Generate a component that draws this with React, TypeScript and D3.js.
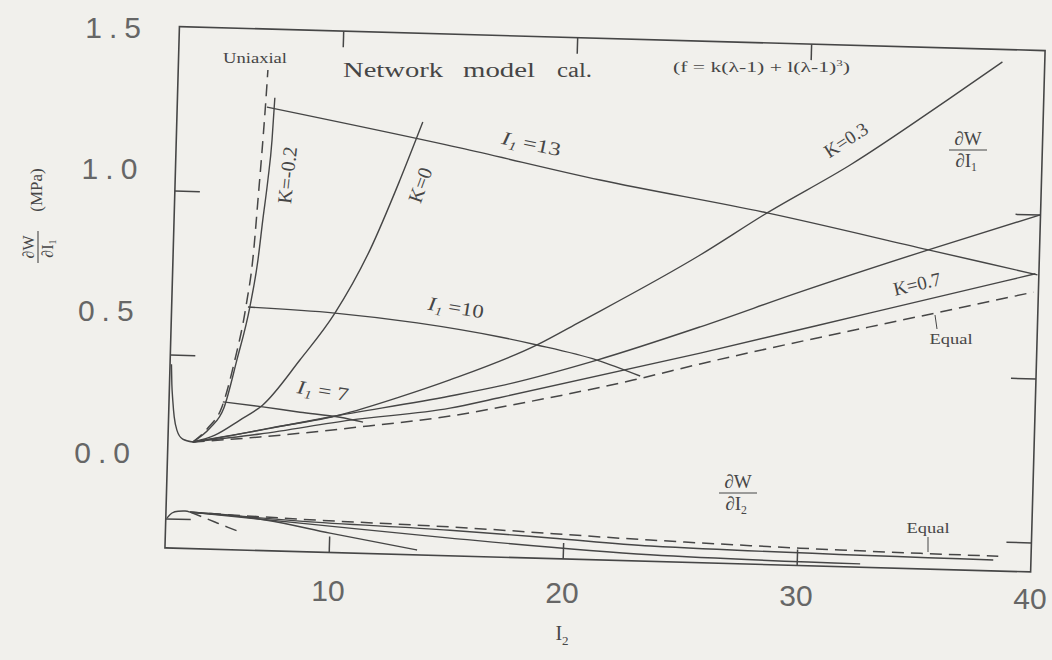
import React from "react";
import * as d3 from "d3";

const W = 1052;
const H = 660;

// axis ticks (inside the frame) and printed labels
const I2_TICKS = [10, 20, 30];
const VALUE_TICKS = [0, 0.5, 1.0];
const I2_LABELS = [10, 20, 30, 40];
const VALUE_LABELS = [1.5, 1.0, 0.5, 0.0];

// dW/dI1 curves, [I2, MPa]
const uniaxialI1: [number, number][] = [
  [4.06, 0.235], [4.69, 0.279], [5.27, 0.345], [5.76, 0.488], [6.17, 0.651],
  [6.44, 0.826], [6.56, 0.978], [6.7, 1.162], [6.78, 1.284], [6.83, 1.375],
];
const kMinus02I1: [number, number][] = [
  [4.06, 0.235], [4.78, 0.279], [5.35, 0.341], [5.85, 0.489], [6.34, 0.651],
  [6.63, 0.795], [6.79, 0.918], [6.96, 1.04], [7.09, 1.163], [7.16, 1.291],
];
const k0I1: [number, number][] = [
  [4.06, 0.235], [5.0, 0.258], [6.05, 0.306], [7.01, 0.354], [8.54, 0.494],
  [9.98, 0.64], [11.4, 0.835], [12.6, 1.051], [13.51, 1.23],
];
const k03I1: [number, number][] = [
  [4.06, 0.235], [5.09, 0.249], [7.34, 0.284], [10.32, 0.33], [12.86, 0.39],
  [14.97, 0.446], [18.65, 0.56], [20.46, 0.634], [25.51, 0.848], [28.32, 0.982],
  [31.81, 1.135], [35.88, 1.341], [38.19, 1.462],
];
const k05I1: [number, number][] = [
  [4.06, 0.235], [6.49, 0.27], [9.89, 0.323], [15.0, 0.397], [17.12, 0.432],
  [21.23, 0.519], [25.6, 0.629], [29.83, 0.744], [35.25, 0.883], [39.99, 0.999],
];
const k07I1: [number, number][] = [
  [4.06, 0.235], [6.92, 0.265], [10.75, 0.315], [15.01, 0.36], [17.05, 0.395],
  [25.63, 0.549], [32.85, 0.686], [39.85, 0.819],
];
const equalI1: [number, number][] = [
  [4.06, 0.235], [6.92, 0.256], [10.76, 0.291], [15.02, 0.336], [18.29, 0.385],
  [22.79, 0.461], [25.64, 0.516], [35.62, 0.691], [39.79, 0.763],
];
const smallStrainI1: [number, number][] = [
  [3.06, 0.47], [3.1, 0.41], [3.16, 0.36], [3.24, 0.31], [3.37, 0.27],
  [3.63, 0.243], [4.06, 0.235],
];

// constant-I1 lines
const i1Is7: [number, number][] = [
  [5.3, 0.36], [7.01, 0.348], [8.61, 0.335], [10.32, 0.323], [11.31, 0.31],
];
const i1Is10: [number, number][] = [
  [6.26, 0.651], [9.98, 0.64], [13.5, 0.617], [17.06, 0.581], [18.65, 0.56],
  [21.23, 0.519], [23.09, 0.474],
];
const i1Is13: [number, number][] = [
  [6.83, 1.262], [15.13, 1.154], [21.15, 1.068], [28.32, 0.982], [35.25, 0.883],
  [39.94, 0.816],
];

// dW/dI2 curves, [I2, MPa]
const startI2: [number, number][] = [
  [3.05, 0.001], [3.26, 0.017], [3.52, 0.023], [3.82, 0.024], [4.03, 0.021],
];
const uniaxialI2: [number, number][] = [
  [4.03, 0.021], [4.46, 0.01], [5.1, -0.007], [5.67, -0.022], [6.18, -0.035],
];
const k0I2: [number, number][] = [
  [4.03, 0.021], [5.74, 0.015], [7.32, 0.003], [10.03, -0.031], [13.77, -0.075],
];
const equalI2: [number, number][] = [
  [4.03, 0.021], [8.73, 0.009], [15.18, -0.002], [23.71, -0.025], [30.13, -0.037],
  [38.6, -0.045],
];
const k07I2: [number, number][] = [
  [4.03, 0.021], [8.73, 0.003], [15.15, -0.012], [19.45, -0.027], [23.74, -0.043],
  [38.39, -0.057],
];
const k03I2: [number, number][] = [
  [4.03, 0.021], [8.74, -0.003], [15.16, -0.036], [23.73, -0.07], [32.71, -0.08],
];

const solidSeries = [
  smallStrainI1, kMinus02I1, k0I1, k03I1, k05I1, k07I1,
  i1Is7, i1Is10, i1Is13, startI2, k0I2, k07I2, k03I2,
];
const dashedSeries = [uniaxialI1, equalI1, uniaxialI2, equalI2];

const INK = "#464646";
const SERIF = "'Liberation Serif', 'Times New Roman', serif";
const SANS = "'Liberation Sans', Arial, sans-serif";

// plot frame before the page tilt
const x = d3.scaleLinear().domain([3, 40]).range([172, 1038]);
const y = d3.scaleLinear().domain([-0.09, 1.5]).range([560, 38.5]);
const TILT = "rotate(1.59, 604.5, 300)";

// positions of the printed tick numbers
const valueLabelY = d3.scaleLinear().domain([0, 1.5]).range([452, 27]);
const valueLabelX = d3.scaleLinear().domain([0, 1.5]).range([137, 148]);
const i2LabelX = d3.scaleLinear().domain([10, 40]).range([328, 1030]);
const i2LabelY = d3.scaleLinear().domain([10, 40]).range([590, 598]);

const line = d3
  .line<[number, number]>()
  .x((d) => x(d[0]))
  .y((d) => y(d[1]))
  .curve(d3.curveMonotoneX);

function Fraction(props: {
  cx: number;
  cy: number;
  sub: string;
  size: number;
  rotate?: number;
}) {
  const { cx, cy, sub, size, rotate = 0 } = props;
  const half = size * 1.0;
  return (
    <g transform={`translate(${cx},${cy}) rotate(${rotate})`} fill={INK} fontFamily={SERIF} fontSize={size}>
      <text x={0} y={-size * 0.28} textAnchor="middle">∂W</text>
      <line x1={-half} x2={half} y1={0} y2={0} stroke={INK} strokeWidth={1.1} />
      <text x={-size * 0.1} y={size * 0.92} textAnchor="middle">
        ∂I<tspan fontSize={size * 0.62} dy={size * 0.18}>{sub}</tspan>
      </text>
    </g>
  );
}

function I1Label(props: { cx: number; cy: number; angle: number; value: string; width: number }) {
  const { cx, cy, angle, value, width } = props;
  return (
    <text
      transform={`translate(${cx},${cy}) rotate(${angle})`}
      textAnchor="middle"
      fontFamily={SERIF}
      fontSize={19}
      fill={INK}
      textLength={width}
      lengthAdjust="spacingAndGlyphs"
    >
      <tspan fontStyle="italic">I</tspan>
      <tspan fontSize={12} dy={4} fontStyle="italic">1</tspan>
      <tspan dy={-4}>{value}</tspan>
    </text>
  );
}

function Label(props: {
  cx: number;
  cy: number;
  angle?: number;
  text: string;
  size?: number;
  width?: number;
}) {
  const { cx, cy, angle = 0, text, size = 16, width } = props;
  return (
    <text
      transform={`translate(${cx},${cy}) rotate(${angle})`}
      textAnchor="middle"
      dominantBaseline="central"
      fontFamily={SERIF}
      fontSize={size}
      fill={INK}
      textLength={width}
      lengthAdjust={width ? "spacingAndGlyphs" : undefined}
    >
      {text}
    </text>
  );
}

export default function App() {
  const gx = React.useRef<SVGGElement>(null);

  React.useEffect(() => {
    if (!gx.current) return;
    const g = d3.select(gx.current);
    g.selectAll("*").remove();
    const noText = () => "";
    const style = (sel: d3.Selection<SVGGElement, unknown, null, undefined>) => {
      sel.select(".domain").remove();
      sel.selectAll("line").attr("stroke", INK).attr("stroke-width", 1.5);
    };
    g.append("g")
      .attr("transform", `translate(${x(3)},0)`)
      .call(d3.axisLeft(y).tickValues(VALUE_TICKS).tickSize(-25).tickFormat(noText))
      .call(style);
    g.append("g")
      .attr("transform", `translate(${x(40)},0)`)
      .call(d3.axisRight(y).tickValues(VALUE_TICKS).tickSize(-25).tickFormat(noText))
      .call(style);
    g.append("g")
      .attr("transform", `translate(0,${y(-0.09)})`)
      .call(d3.axisBottom(x).tickValues(I2_TICKS).tickSize(-16).tickFormat(noText))
      .call(style);
    g.append("g")
      .attr("transform", `translate(0,${y(1.5)})`)
      .call(d3.axisTop(x).tickValues(I2_TICKS).tickSize(-16).tickFormat(noText))
      .call(style);
  }, []);

  const fmt = d3.format(".1f");

  return (
    <svg
      width={W}
      height={H}
      style={{ position: "absolute", left: 0, top: 0, display: "block" }}
    >
      <rect x={0} y={0} width={W} height={H} fill="#f1f0ec" />

      <g transform={TILT}>
        <rect
          x={x(3)}
          y={y(1.5)}
          width={x(40) - x(3)}
          height={y(-0.09) - y(1.5)}
          fill="none"
          stroke={INK}
          strokeWidth={1.6}
        />
        <g ref={gx} />
        {solidSeries.map((s, i) => (
          <path key={`s${i}`} d={line(s) ?? ""} fill="none" stroke={INK} strokeWidth={1.4} />
        ))}
        {dashedSeries.map((s, i) => (
          <path
            key={`d${i}`}
            d={line(s) ?? ""}
            fill="none"
            stroke={INK}
            strokeWidth={1.5}
            strokeDasharray="12 7"
          />
        ))}
      </g>

      {/* value tick numbers */}
      {VALUE_LABELS.map((v) => (
        <text
          key={`v${v}`}
          x={valueLabelX(v)}
          y={valueLabelY(v)}
          textAnchor="end"
          dominantBaseline="central"
          fontFamily={SANS}
          fontSize={30}
          letterSpacing={7}
          fill="#666"
        >
          {fmt(v)}
        </text>
      ))}
      {/* I2 tick numbers */}
      {I2_LABELS.map((v) => (
        <text
          key={`i${v}`}
          x={i2LabelX(v)}
          y={i2LabelY(v)}
          textAnchor="middle"
          dominantBaseline="central"
          fontFamily={SANS}
          fontSize={30}
          fill="#666"
        >
          {v}
        </text>
      ))}

      {/* axis titles */}
      <text x={562} y={640} textAnchor="middle" fontFamily={SERIF} fontSize={20} fill={INK}>
        I<tspan fontSize={13} dy={5}>2</tspan>
      </text>
      <Label cx={36} cy={190} angle={-90} text="(MPa)" size={17} />
      <Fraction cx={38} cy={247} sub="1" size={16} rotate={-90} />

      {/* annotations */}
      <Label cx={393} cy={70} text="Network" size={20} width={100} />
      <Label cx={499} cy={70} text="model" size={20} width={72} />
      <Label cx={574.5} cy={70} text="cal." size={20} width={35} />
      <text
        x={673}
        y={72}
        fontFamily={SERIF}
        fontSize={15}
        fill={INK}
        textLength={177}
        lengthAdjust="spacingAndGlyphs"
      >
        (f = k(λ-1) + l(λ-1)<tspan fontSize={9} dy={-6}>3</tspan>
        <tspan dy={6}>)</tspan>
      </text>
      <Label cx={255} cy={58} text="Uniaxial" size={15} width={64} />
      <Label cx={287} cy={175} angle={-84} text="K=-0.2" size={20} />
      <Label cx={420} cy={185} angle={-70} text="K=0" size={20} />
      <Label cx={846} cy={140} angle={-33} text="K=0.3" size={19} />
      <Label cx={917} cy={284} angle={-13} text="K=0.7" size={19} />
      <I1Label cx={530} cy={150} angle={12} value=" =13" width={60} />
      <I1Label cx={455} cy={314} angle={9} value=" =10" width={56} />
      <I1Label cx={322} cy={397} angle={9} value=" = 7" width={52} />
      <Fraction cx={968} cy={150} sub="1" size={19} />
      <Fraction cx={738} cy={493} sub="2" size={19} />

      {/* "Equal" markers */}
      <Label cx={951} cy={339} text="Equal" size={14} width={43} />
      <line x1={935} y1={315} x2={937} y2={329} stroke={INK} strokeWidth={1} />
      <Label cx={928} cy={528} text="Equal" size={14} width={43} />
      <line x1={928} y1={537} x2={928} y2={552} stroke={INK} strokeWidth={1} />
    </svg>
  );
}
